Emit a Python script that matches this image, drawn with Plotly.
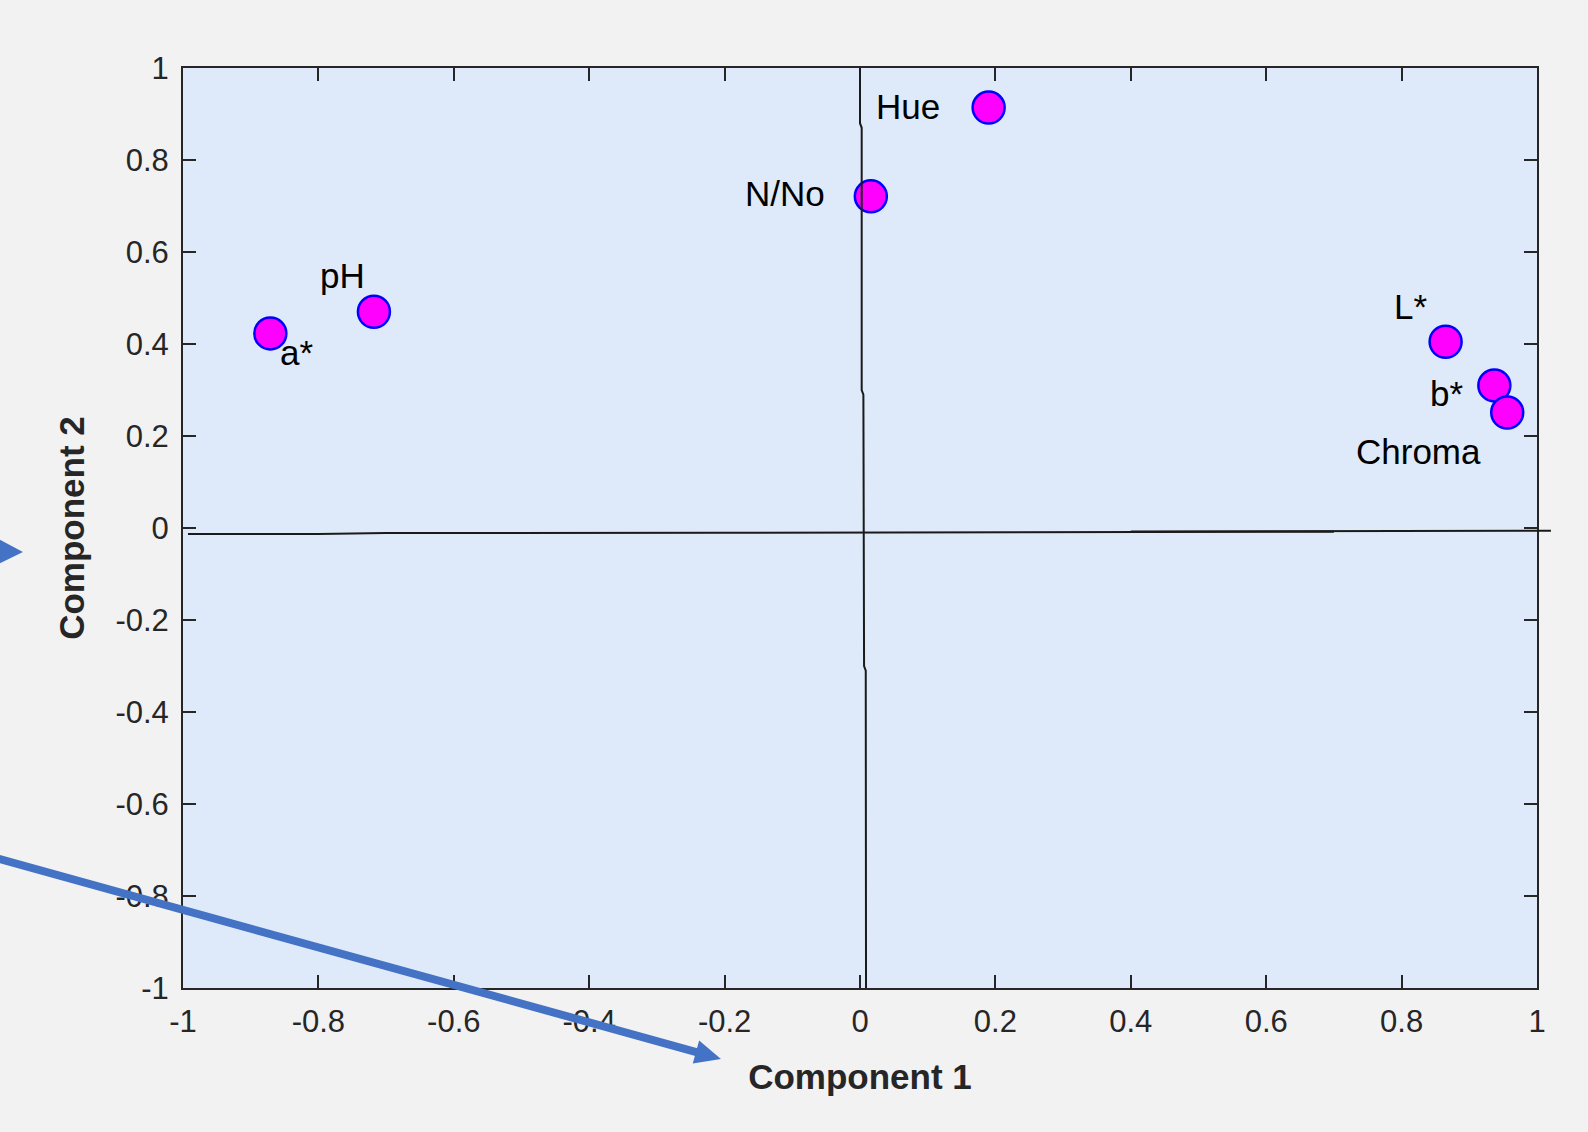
import plotly.graph_objects as go

# ---- data ----
variables = ["Hue", "N/No", "pH", "a*", "L*", "b*", "Chroma"]
comp1 = [0.190, 0.016, -0.718, -0.871, 0.865, 0.937, 0.956]
comp2 = [0.914, 0.721, 0.470, 0.423, 0.405, 0.310, 0.251]
tick_vals = [-1, -0.8, -0.6, -0.4, -0.2, 0, 0.2, 0.4, 0.6, 0.8, 1]
tick_text = ["-1", "-0.8", "-0.6", "-0.4", "-0.2", "0", "0.2", "0.4", "0.6", "0.8", "1"]

# label offsets in pixels (x right, y up)
label_dx = [-81, -86, -31, 26, -35, -48, -89]
label_dy = [1, 3, 36, -19, 35, -8, -39]

FONT = "Liberation Sans, Arial, sans-serif"
AXC = "#262626"
ARROW = "#4472c4"

fig = go.Figure()

fig.add_trace(go.Scatter(
    x=comp1, y=comp2, mode="markers",
    marker=dict(size=32, color="#ff00ff", line=dict(color="#0000ff", width=2.5)),
    hoverinfo="text", text=variables, showlegend=False, cliponaxis=False,
))

annotations = []
for name, x, y, dx, dy in zip(variables, comp1, comp2, label_dx, label_dy):
    annotations.append(dict(
        x=x, y=y, xref="x", yref="y", text=name, showarrow=False,
        xshift=dx, yshift=dy, font=dict(family=FONT, size=35, color="#000000"),
        xanchor="center", yanchor="middle",
    ))

shapes = [
    # hand-drawn zero lines
    dict(type="path", xref="x", yref="y",
         path="M -0.9926,-0.0130 L -0.8,-0.0130 L -0.7,-0.0110 L -0.2,-0.0105 L 0.7,-0.0080",
         line=dict(color="#1a1a1a", width=2), layer="above"),
    dict(type="line", xref="paper", yref="y", x0=0.70, x1=1.0103, y0=-0.0075, y1=-0.0060,
         line=dict(color="#1a1a1a", width=2), layer="above"),
    dict(type="path", xref="x", yref="y",
         path="M 0.0000,1.0 L 0.0000,0.88 L 0.0025,0.87 L 0.0025,0.30 L 0.0050,0.29 L 0.0060,-0.30 L 0.0085,-0.31 L 0.0089,-1.0",
         line=dict(color="#1a1a1a", width=2), layer="above"),
    # decorative blue arrows (paper coordinates)
    dict(type="path", xref="paper", yref="paper",
         path="M -0.1360,0.488 L -0.1360,0.461 L -0.1182,0.474 Z",
         fillcolor=ARROW, line=dict(color=ARROW, width=0), layer="above"),
    dict(type="line", xref="paper", yref="paper",
         x0=-0.1400, y0=0.1420, x1=0.3818, y1=-0.0707,
         line=dict(color=ARROW, width=8), layer="above"),
    dict(type="path", xref="paper", yref="paper",
         path="M 0.3765,-0.0822 L 0.3812,-0.0570 L 0.3973,-0.0772 Z",
         fillcolor=ARROW, line=dict(color=ARROW, width=0), layer="above"),
]

axis_common = dict(
    range=[-1, 1], tickvals=tick_vals, ticktext=tick_text,
    showgrid=False, zeroline=False, showline=True, mirror="ticks",
    linecolor=AXC, linewidth=2, ticks="inside", ticklen=13, tickwidth=2,
    tickcolor=AXC, tickfont=dict(family=FONT, size=31, color=AXC),
    fixedrange=True,
)

fig.update_layout(
    width=1588, height=1132,
    margin=dict(l=183, r=51, t=68, b=144),
    paper_bgcolor="#f2f2f2", plot_bgcolor="#deeaf9",
    xaxis=dict(**axis_common, ticklabelstandoff=5,
               title=dict(text="<b>Component 1</b>", standoff=26,
                          font=dict(family=FONT, size=35, color=AXC))),
    yaxis=dict(**axis_common, ticklabelstandoff=6,
               title=dict(text="<b>Component 2</b>", standoff=20,
                          font=dict(family=FONT, size=35, color=AXC))),
    annotations=annotations,
    shapes=shapes,
)

fig.write_html(
    "out.html",
    config={"displayModeBar": False},
    post_script="document.body.style.margin='0';document.body.style.overflow='hidden';",
)
